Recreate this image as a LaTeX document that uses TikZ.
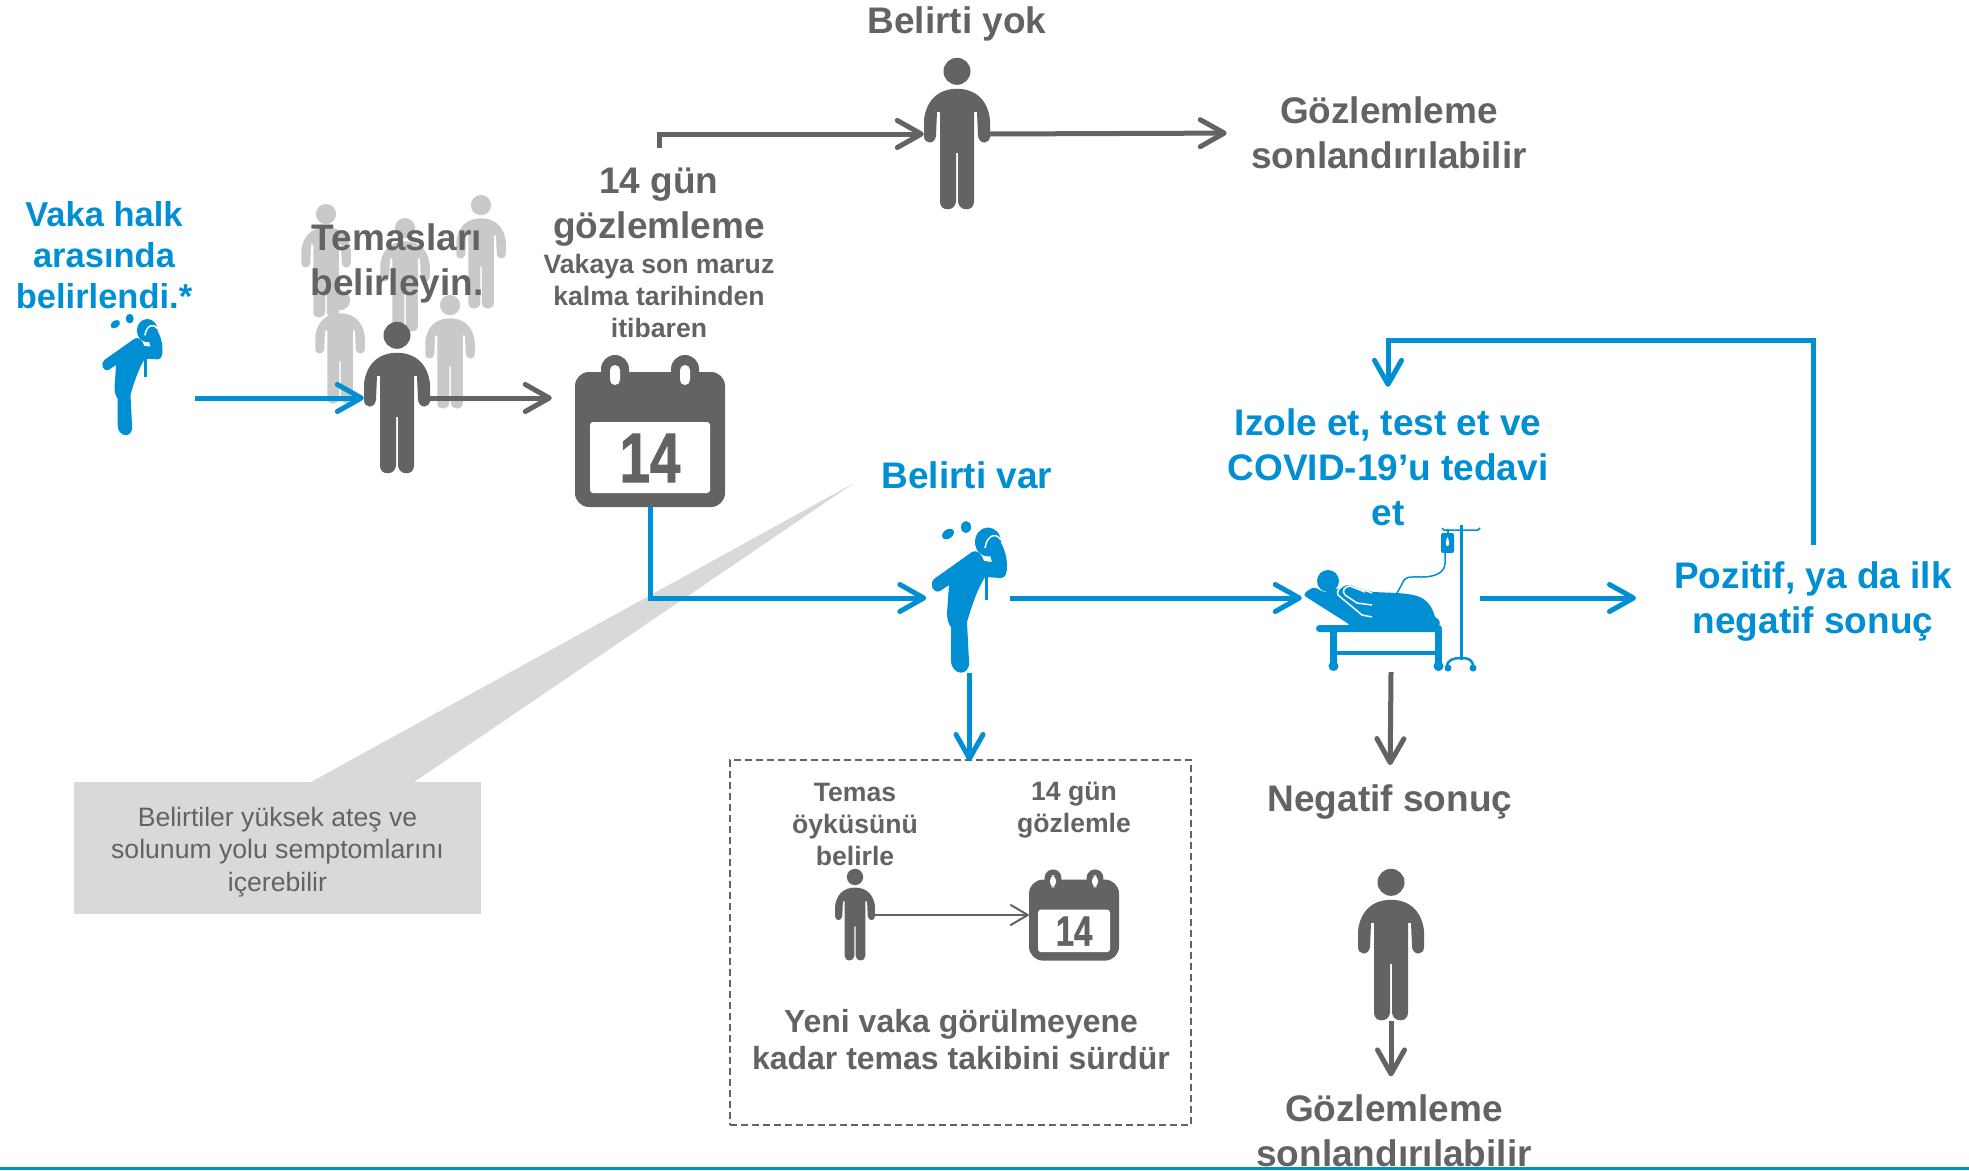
\documentclass[tikz,border=0pt]{standalone}
\usepackage{fontspec}
\setmainfont{Liberation Sans}
\newfontfamily\calfont[BoldFeatures={FakeBold=1.5}]{Liberation Sans}
\usetikzlibrary{arrows.meta}
\definecolor{unblue}{HTML}{008FD3}
\definecolor{ungray}{HTML}{636363}
\definecolor{crowd}{HTML}{C9C9C9}
\definecolor{notefill}{HTML}{D9D9D9}
\tikzset{
  blueline/.style={draw=unblue,line width=5pt,line join=miter,-{Straight Barb[length=24pt,width=27pt,round]}},
  grayline/.style={draw=ungray,line width=5pt,line join=miter,-{Straight Barb[length=24pt,width=27pt,round]}},
  thinline/.style={draw=ungray,line width=2pt,-{Straight Barb[length=17pt,width=20pt,round]}},
  icon/.style={inner sep=0pt,minimum width=#1},
  big/.style={align=center,font=\bfseries\fontsize{37}{45}\selectfont,text=ungray},
  bigblue/.style={big,text=unblue},
  mid/.style={align=center,font=\bfseries\fontsize{26.6}{32}\selectfont,text=ungray},
  pics/manicon/.style={code={
    \fill[#1] (0,13.5) circle (13.5);
    \fill[#1] (0,31) .. controls (20,31) and (31,44) .. (33,62) -- (33,78)
      .. controls (33,87) and (22,87) .. (21,78) -- (20,54) -- (17,54) -- (17,144)
      .. controls (17,154) and (2,154) .. (1,144) -- (1,95) -- (-1,95) -- (-1,144)
      .. controls (-2,154) and (-17,154) .. (-17,144) -- (-17,54) -- (-20,54) -- (-21,78)
      .. controls (-22,87) and (-33,87) .. (-33,78) -- (-33,62)
      .. controls (-31,44) and (-20,31) .. (0,31) -- cycle;
  }},
  pics/calicon/.style={code={
    \fill[ungray,rounded corners=14pt] (-75,-59) rectangle (75,76);
    \foreach \x in {-35,35} {
      \fill[ungray] (\x-14,-62) arc (180:360:14 and 14) -- (\x+14,-50) -- (\x-14,-50) -- cycle;
      \fill[white,rounded corners=5pt] (\x-5,-66) rectangle (\x+5,-46);
    }
    \fill[white,rounded corners=3pt] (-60,-9) rectangle (60,62);
    \node[transform shape,text=ungray,font=\calfont\bfseries\fontsize{70}{70}\selectfont] at (0,27) {\scalebox{.78}[1]{14}};
  }},
  pics/sickicon/.style={code={
    \begin{scope}[shift={(-969.5,-600)}]
    \fill[unblue] (988,542) ellipse (13 and 14.5);
    \fill[unblue,rotate around={35:(948,534)}] (948,534) ellipse (6.5 and 4.5);
    \fill[unblue] (966,527) ellipse (5 and 6);
    \fill[unblue] (972,552) -- (934,579) .. controls (929,584) and (933,594) .. (940,591) -- (949,585)
      -- (947,613) .. controls (947,620) and (949,625) .. (951,627) -- (951,660)
      .. controls (951,676) and (970,677) .. (969,662) -- (967,622)
      .. controls (972,605) and (977,590) .. (985,577) -- (1001,578)
      .. controls (1006,578) and (1007,572) .. (1007,566) .. controls (1007,555) and (1003,545) .. (999,540)
      .. controls (995,535) and (988,537) .. (987,544) -- (992,562) -- (984,561)
      .. controls (982,555) and (978,549) .. (972,552) -- cycle;
    \draw[white,line width=1.5pt] (985,548) .. controls (987,535) and (996,532) .. (1001,540);
    \draw[unblue,line width=3pt] (986,575) -- (986,600);
    \end{scope}
  }}
}
\begin{document}
\begin{tikzpicture}[x=1pt,y=-1pt]
\useasboundingbox (0,0) rectangle (1969,1170);

\fill[notefill] (311,782) -- (854,483) -- (414,782) -- cycle;
\node[fill=notefill,minimum width=407pt,minimum height=132pt,inner sep=0pt] (note) at (277.5,848) {};
\node[align=center,text=ungray,font=\fontsize{26.6}{32.5}\selectfont] (notelab) at (277.5,852) {Belirtiler yüksek ateş ve\\solunum yolu semptomlarını\\içerebilir};

\foreach \x/\y in {326/204,405/218,481/195,340/290,450/295} {
  \pic[scale=.75] at (\x,\y) {manicon=crowd};
}

\node[icon=80pt,minimum height=146pt] (caseman) at (132.5,377) {};
\pic[scale=.8] at (caseman.center) {sickicon};
\node[icon=66pt,minimum height=152pt] (contactman) at (397,398) {};
\pic at (contactman.north) {manicon=ungray};
\node[icon=66pt,minimum height=152pt] (topman) at (957,134) {};
\pic at (topman.north) {manicon=ungray};
\node[icon=150pt,minimum height=152pt] (calendar) at (650,431) {};
\pic at (calendar.center) {calicon};
\node[icon=80pt,minimum height=150pt] (sickman) at (969.5,598) {};
\pic at (969.5,600) {sickicon};
\node[icon=178pt,minimum height=148pt] (bedman) at (1391,598) {};
\node[icon=66pt,minimum height=152pt] (lowman) at (1391,945) {};
\pic at (lowman.north) {manicon=ungray};

\fill[unblue] (1328,581) circle (11);
\fill[unblue,rounded corners=3pt] (1303,595) -- (1308,590) -- (1315,587) -- (1319,590) -- (1328,593) -- (1372,625) -- (1352,626) -- cycle;
\fill[unblue] (1373,592) -- (1397,593) .. controls (1412,594) and (1418,596) .. (1422,598) .. controls (1430,603) and (1433,610) .. (1435,617) .. controls (1441,619) and (1441,626) .. (1437,629) -- (1352,629) -- (1325,592) -- (1340,588) .. controls (1345,582) and (1352,585) .. (1357,587) -- cycle;
\draw[white,line width=1.5pt] (1372,593) -- (1357,587) .. controls (1352,584) and (1347,582) .. (1340,588) .. controls (1337,591) and (1337,594) .. (1338,595) -- (1362,615) -- (1372,617);
\draw[white,line width=1.5pt] (1372,605) -- (1357,603) -- (1345,595) .. controls (1341,591) and (1345,586) .. (1350,586) -- (1365,592);
\fill[unblue,rounded corners=3.5pt] (1316,625) rectangle (1442,632);
\fill[unblue] (1330,630) rectangle (1337,665);
\fill[unblue] (1435,630) rectangle (1442,665);
\fill[unblue] (1334,651) rectangle (1438,655);
\fill[unblue] (1333.5,666) circle (5);
\fill[unblue] (1438.5,666) circle (5);
\fill[unblue] (1460,525) rectangle (1463,660);
\draw[unblue,line width=1.5pt] (1442,528) -- (1444,530) -- (1478,530) -- (1480,528);
\draw[unblue,line width=2.5pt] (1447,667) .. controls (1447,660) and (1453,658) .. (1461,658) .. controls (1469,658) and (1473,660) .. (1473,667);
\fill[unblue] (1448,668) circle (3.5);
\fill[unblue] (1473,668) circle (3.5);
\fill[unblue,rounded corners=2pt] (1441,533) rectangle (1454,553);
\fill[unblue] (1447,529) rectangle (1449,534);
\fill[white] (1447.5,537) .. controls (1445.5,541) and (1445,546) .. (1447.5,546) .. controls (1450,546) and (1449.5,541) .. (1447.5,537) -- cycle;
\draw[unblue,line width=1.5pt] (1445,553) -- (1445,563) .. controls (1445,572) and (1436,577) .. (1422,577) .. controls (1408,577) and (1405,576) .. (1402,584) -- (1397,593);

\node[bigblue,font=\bfseries\fontsize{34.5}{41}\selectfont] (caselab) at (104,255) {Vaka halk\\arasında\\belirlendi.*};
\node[big] (contactlab) at (397,263) {Temasları\\belirleyin.};
\node[big,inner sep=0pt] (obslab) at (659,207) {14 gün\\gözlemleme};
\node[mid] (sincelab) at (659,296) {Vakaya son maruz\\kalma tarihinden\\itibaren};
\node[big] (nosym) at (957,24) {Belirti yok};
\node[big] (stoptop) at (1389,133) {Gözlemleme\\sonlandırılabilir};
\node[bigblue] (sym) at (967,475) {Belirti var};
\node[bigblue] (iso) at (1388,467) {Izole et, test et ve\\COVID-19’u tedavi\\et};
\node[bigblue] (pos) at (1813,602) {Pozitif, ya da ilk\\negatif sonuç};
\node[big] (neg) at (1390,802) {Negatif sonuç};
\node[big] (stopend) at (1394,1131) {Gözlemleme\\sonlandırılabilir};

\node[draw=ungray,dash pattern=on 7pt off 4pt,line width=2pt,minimum width=461pt,minimum height=365pt,inner sep=0pt] (casebox) at (960.5,942.5) {};
\node[mid] (boxlab) at (855,824) {Temas\\öyküsünü\\belirle};
\node[mid] (boxobs) at (1074,810) {14 gün\\gözlemle};
\node[icon=40pt,minimum height=92pt] (boxman) at (855,915) {};
\pic[scale=.605] at (boxman.north) {manicon=ungray};
\node[icon=90pt,minimum height=92pt] (boxcal) at (1074,915) {};
\pic[scale=.6] at (boxcal.center) {calicon};
\node[big,font=\bfseries\fontsize{32}{37}\selectfont] (boxnote) at (961,1040) {Yeni vaka görülmeyene\\kadar temas takibini sürdür};

\coordinate (caseout) at (195,398);
\coordinate (obsout) at (659,148);
\coordinate (posin) at (1636,598);
\coordinate (loop) at (1813,340);

\draw[blueline] (caseout) -- (contactman.west);
\draw[grayline,shorten >=23pt] (contactman.east) -- (calendar.west |- contactman.east);
\draw[grayline] (obsout) |- (topman.west);
\draw[grayline,shorten >=21pt] (topman.east) -- (stoptop.west);
\draw[blueline,shorten >=3pt] (calendar.south) |- (sickman.west);
\draw[blueline] (sickman.east) -- (bedman.west);
\draw[blueline] (bedman.east) -- (posin);
\draw[blueline,shorten <=14pt,shorten >=18pt] (pos.north) -- (loop) -| (iso.north);
\draw[blueline,shorten >=-2pt] (sickman.south) -- (sickman.south |- casebox.north);
\draw[grayline,shorten >=16pt] (bedman.south) -- (neg.north);
\draw[grayline,shorten >=15pt] (lowman.south) -- (stopend.north -| lowman.south);
\draw[thinline] (boxman.east) -- (boxcal.west);

\draw[unblue,line width=2.5pt] (0,1168.5) -- (1969,1168.5);
\end{tikzpicture}
\end{document}
